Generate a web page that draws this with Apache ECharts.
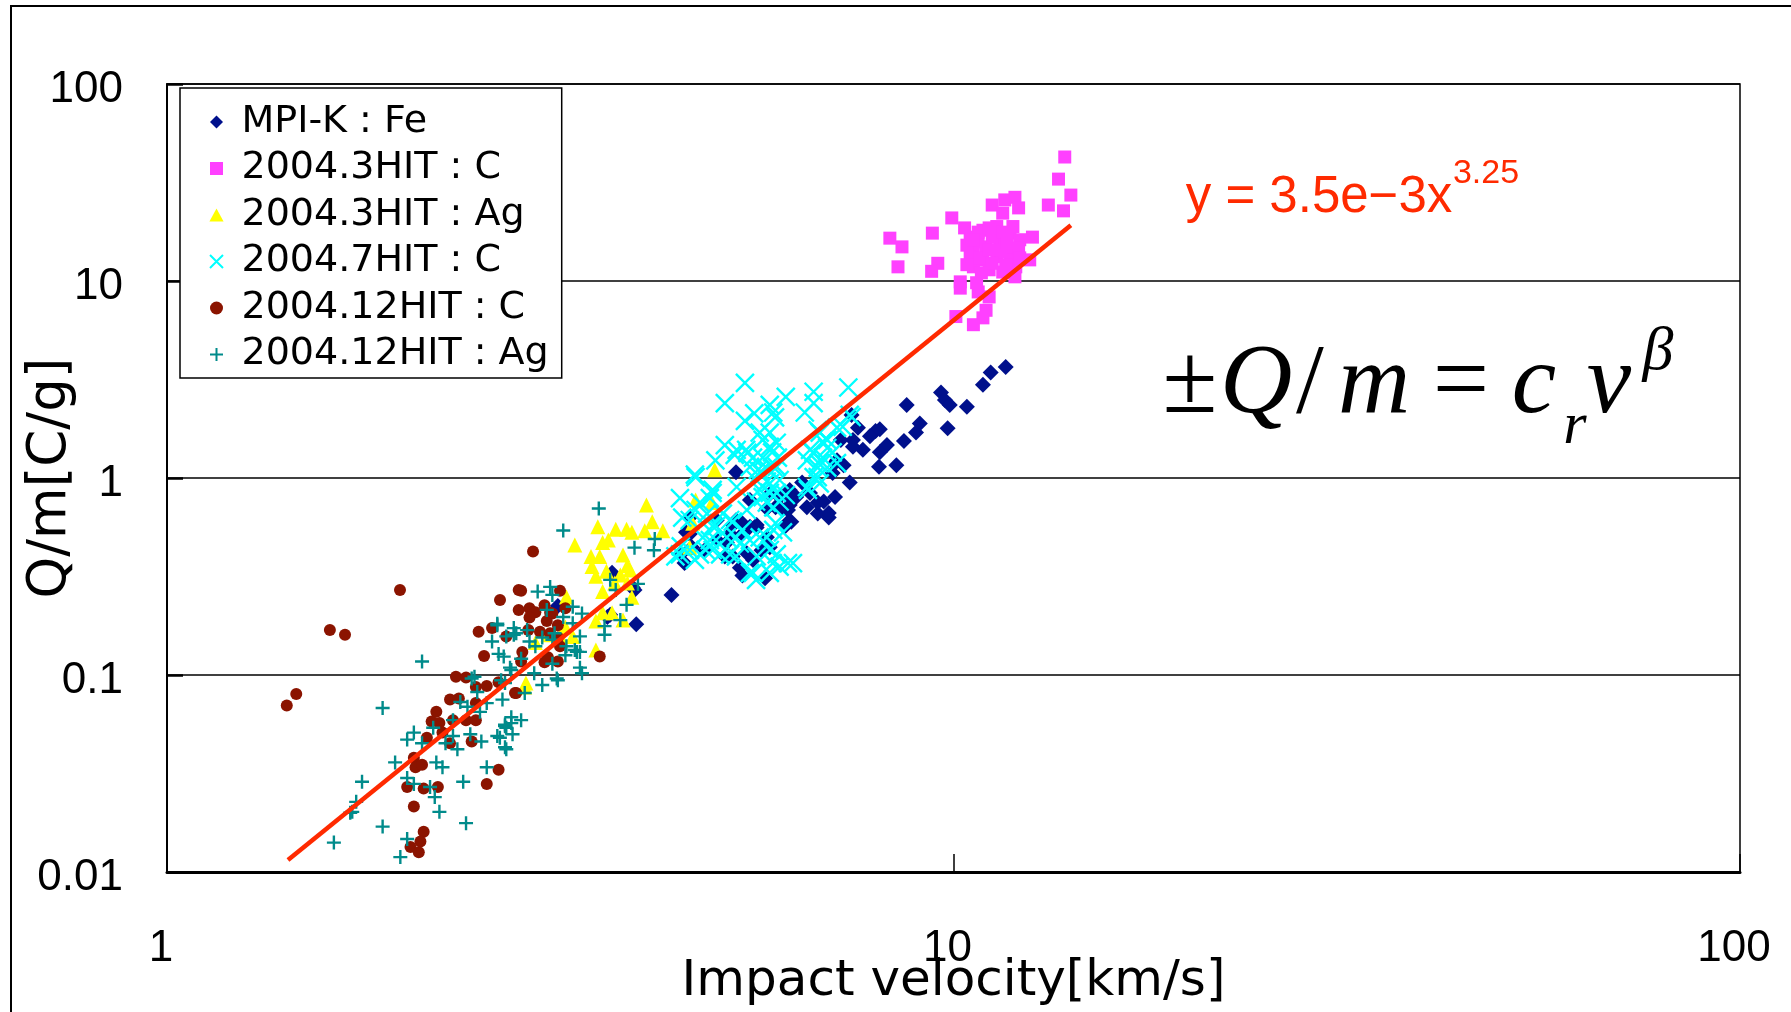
<!DOCTYPE html>
<html>
<head>
<meta charset="utf-8">
<script src="https://cdn.jsdelivr.net/npm/echarts/dist/echarts.min.js"></script>
<style>
html,body{margin:0;padding:0;background:#fff;}
#chart{width:1791px;height:1012px;}
</style>
</head>
<body>
<div id="chart"></div>
<script>
// ---- data (impact velocity km/s, Q/m C/g) ----
const seriesNames = ['MPI-K : Fe', '2004.3HIT : C', '2004.3HIT : Ag', '2004.7HIT : C', '2004.12HIT : C', '2004.12HIT : Ag'];
const xTickLabels = ['1', '10', '100'];
const yTickLabels = ['0.01', '0.1', '1', '10', '100'];

const mpiFe = [[11.65,3.66],[11.15,3.43],[10.9,2.97],[9.64,2.72],[9.75,2.49],[9.89,2.35],[10.4,2.30],[8.72,2.35],[9.83,1.79],[9.06,1.89],[8.96,1.70],[8.65,1.54],[8.23,1.47],[8.06,1.35],[8.46,1.16],[8.04,1.14],[7.96,1.73],[7.83,1.63],[7.67,1.39],[7.56,1.80],[7.42,2.09],[7.45,1.56],[7.45,1.44],[7.25,1.16],[7.38,0.95],[7.02,1.06],[7.07,0.80],[6.84,0.76],[6.94,0.63],[6.72,0.66],[7.11,1.23],[6.51,0.71],[6.42,0.95],[6.31,0.80],[6.19,0.73],[6.06,0.69],[6.14,0.59],[5.94,0.71],[5.79,0.70],[6.01,0.80],[5.79,0.50],[5.84,0.445],[5.70,0.43],[5.76,0.31],[5.56,0.384],[5.46,0.415],[5.39,0.59],[5.29,1.07],[5.51,0.773],[5.20,0.52],[5.24,0.577],[5.12,0.40],[5.00,0.61],[4.84,0.431],[4.65,0.445],[4.62,0.63],[4.55,0.37],[5.24,0.40],[5.35,0.35],[4.38,0.255],[3.95,0.181],[3.91,0.278],[3.66,0.202],[3.68,0.33],[5.29,0.61],[5.51,0.566],[5.62,0.577],[6.19,0.87],[6.57,0.84],[6.72,0.75],[6.94,0.665],[7.19,1.56],[7.07,1.19],[6.24,0.773],[6.16,0.688],[6.22,0.60],[6.10,0.566],[5.84,0.83],[5.62,0.56],[5.39,0.52],[5.15,0.47],[5.39,0.32],[5.00,0.484],[4.83,0.431],[4.62,0.52],[3.14,0.224],[3.93,0.27],[3.63,0.197],[8.06,1.77],[4.57,0.53],[4.50,0.41]];

const hit3C = [[13.85,42.6],[13.6,32.9],[14.1,27.3],[13.2,24.3],[13.8,22.7],[11.97,26.6],[11.62,25.8],[11.2,24.3],[11.55,22.1],[12.1,23.5],[9.95,20.9],[9.40,17.5],[8.30,16.5],[8.6,14.9],[8.5,11.8],[9.55,12.3],[9.38,11.2],[12.6,16.7],[11.9,18.9],[10.5,16.7],[10.9,18.1],[11.35,18.9],[11.8,17.5],[12.14,16.2],[10.6,14.4],[11.0,14.9],[11.45,15.6],[11.9,14.4],[10.5,13.3],[10.9,12.8],[11.35,13.3],[11.8,12.8],[10.6,11.8],[11.1,11.4],[11.55,11.1],[12.0,11.8],[11.2,16.7],[10.75,15.8],[11.5,14.1],[11.97,10.5],[12.5,12.8],[10.2,9.9],[10.2,9.2],[10.7,9.8],[10.75,8.8],[11.1,8.3],[11.0,7.1],[10.9,6.5],[10.6,6.0],[10.07,6.6],[10.33,18.6],[10.4,15.2],[10.4,12.1],[10.75,17.7],[11.1,18.6],[11.55,17.7],[12.1,14.7],[10.8,13.1],[11.2,12.3],[11.65,12.1],[10.85,11.0],[12.14,13.1],[11.1,14.4],[11.7,15.6],[10.6,16.2]];

const hit3Ag = [[4.07,0.729],[4.14,0.60],[3.53,0.565],[3.72,0.55],[3.84,0.55],[3.90,0.53],[4.05,0.54],[4.27,0.54],[3.30,0.457],[3.58,0.47],[3.64,0.484],[3.46,0.40],[3.55,0.40],[3.80,0.407],[3.85,0.36],[3.47,0.355],[3.51,0.317],[3.62,0.336],[3.77,0.322],[3.88,0.341],[3.85,0.293],[3.71,0.293],[3.58,0.265],[3.90,0.248],[3.22,0.249],[3.58,0.207],[3.68,0.207],[3.51,0.188],[3.80,0.190],[3.21,0.175],[3.16,0.157],[3.28,0.157],[3.51,0.134],[3.05,0.160],[2.86,0.091],[2.85,0.087],[4.97,1.10],[4.70,0.773],[4.93,0.75],[4.66,0.59],[4.62,0.445],[2.94,0.146]];

const hit7C = [[5.43,3.04],[5.12,2.40],[6.12,2.58],[5.84,2.35],[5.90,2.15],[5.58,2.13],[5.43,1.95],[6.64,2.74],[6.64,2.40],[6.47,2.15],[7.35,2.88],[7.42,2.04],[7.23,1.82],[6.72,1.75],[6.91,1.56],[6.57,1.39],[6.82,1.27],[7.02,1.35],[7.11,1.19],[6.72,1.13],[6.51,1.23],[6.64,1.01],[6.76,0.94],[6.53,0.87],[5.12,1.47],[5.30,1.39],[5.45,1.39],[5.72,1.56],[5.84,1.70],[5.67,1.70],[5.96,1.51],[5.56,1.27],[5.72,1.27],[5.88,1.35],[5.51,1.14],[5.64,1.10],[5.79,1.12],[5.96,1.14],[4.98,1.23],[4.69,1.04],[5.61,0.977],[5.79,0.96],[6.01,0.977],[5.67,0.87],[5.84,0.84],[5.61,0.76],[5.79,0.75],[6.01,0.76],[5.30,0.90],[4.94,0.87],[4.49,0.79],[4.90,0.79],[4.70,0.688],[4.62,0.612],[4.80,0.59],[4.99,0.57],[5.20,0.612],[5.39,0.545],[5.94,0.59],[6.07,0.53],[4.80,0.50],[4.99,0.484],[5.29,0.50],[5.51,0.484],[5.79,0.50],[4.49,0.41],[4.62,0.431],[4.84,0.431],[5.05,0.41],[5.29,0.40],[5.84,0.431],[4.69,0.384],[5.89,0.37],[6.01,0.355],[6.25,0.37],[5.51,0.33],[5.61,0.304],[5.84,0.33],[5.93,2.03],[7.38,2.09],[7.11,1.80],[6.76,1.70],[6.82,1.53],[6.91,1.42],[6.64,1.35],[5.27,1.31],[5.47,1.34],[5.84,1.44],[5.98,1.27],[4.70,1.01],[5.69,1.08],[5.90,1.14],[5.84,0.94],[5.96,0.84],[5.72,0.80],[5.90,0.71],[6.12,0.82],[6.74,1.19],[6.91,1.13],[6.72,1.01],[6.51,0.90],[4.76,0.75],[4.94,0.84],[4.52,0.63],[4.86,0.66],[4.94,0.57],[5.09,0.66],[5.24,0.60],[5.46,0.688],[4.90,0.484],[5.15,0.50],[5.35,0.465],[5.67,0.50],[5.90,0.545],[4.94,0.431],[5.20,0.41],[5.62,0.40],[5.96,0.41],[6.16,0.37],[5.56,0.33],[4.76,0.41],[4.43,0.40],[4.50,0.45]];

const hit12C = [[1.978,0.270],[1.611,0.169],[1.684,0.160],[1.46,0.080],[1.42,0.070],[2.80,0.270],[2.651,0.240],[2.80,0.214],[2.49,0.166],[2.59,0.173],[2.70,0.157],[2.53,0.125],[2.33,0.098],[2.40,0.097],[2.47,0.087],[2.55,0.088],[2.64,0.092],[2.77,0.081],[2.29,0.075],[2.35,0.076],[2.47,0.072],[2.20,0.065],[2.17,0.058],[2.22,0.057],[2.31,0.059],[2.40,0.059],[2.47,0.059],[2.14,0.048],[2.24,0.051],[2.29,0.045],[2.44,0.046],[2.06,0.038],[2.07,0.034],[2.11,0.035],[2.02,0.027],[2.12,0.0265],[2.21,0.027],[2.64,0.033],[2.55,0.028],[2.06,0.0215],[2.12,0.016],[2.10,0.0143],[2.04,0.0134],[2.09,0.0126],[2.92,0.424],[2.82,0.268],[2.89,0.218],[2.94,0.208],[2.89,0.196],[3.16,0.268],[3.21,0.218],[3.09,0.205],[3.04,0.188],[3.14,0.179],[2.98,0.166],[2.88,0.169],[3.16,0.140],[3.14,0.117],[3.02,0.116],[2.83,0.131],[2.82,0.117],[2.78,0.081],[3.55,0.124],[3.07,0.207],[3.02,0.226],[3.05,0.123],[3.14,0.155],[3.07,0.163]];

const hit12Ag = [[2.11,0.117],[1.88,0.068],[2.63,0.182],[2.76,0.173],[2.70,0.157],[2.59,0.148],[2.64,0.128],[2.68,0.124],[2.73,0.109],[2.46,0.098],[2.48,0.082],[2.69,0.091],[2.67,0.075],[2.36,0.073],[2.41,0.069],[2.50,0.065],[2.55,0.072],[2.31,0.059],[2.18,0.054],[2.06,0.051],[2.02,0.047],[2.11,0.045],[2.26,0.045],[2.34,0.042],[2.43,0.050],[2.51,0.046],[2.63,0.049],[2.69,0.055],[2.74,0.061],[2.69,0.043],[2.75,0.050],[1.95,0.036],[2.20,0.036],[2.24,0.034],[2.02,0.030],[2.06,0.028],[2.16,0.027],[2.19,0.024],[2.22,0.0202],[2.38,0.0287],[2.55,0.034],[1.77,0.0287],[1.74,0.0227],[1.72,0.0202],[1.71,0.0200],[1.63,0.0141],[1.88,0.0170],[2.02,0.0147],[1.98,0.0119],[2.40,0.0177],[2.31,0.049],[3.54,0.70],[3.19,0.541],[3.93,0.443],[2.96,0.265],[3.07,0.280],[3.04,0.214],[3.28,0.222],[3.37,0.205],[3.19,0.197],[3.28,0.183],[3.11,0.163],[3.35,0.157],[2.89,0.148],[2.78,0.163],[2.63,0.179],[2.94,0.140],[3.32,0.131],[3.21,0.126],[3.35,0.109],[3.37,0.102],[3.14,0.094],[3.00,0.089],[2.85,0.081],[2.82,0.059],[2.74,0.057],[2.70,0.054],[2.70,0.042],[3.66,0.304],[3.72,0.270],[3.84,0.227],[3.77,0.190],[3.60,0.177],[3.60,0.160],[4.17,0.49],[4.16,0.43],[3.97,0.29],[3.09,0.255],[2.87,0.169],[2.76,0.160],[3.00,0.155],[3.09,0.151],[3.22,0.140],[3.30,0.134],[2.82,0.121],[3.09,0.114],[2.74,0.106],[2.93,0.102],[3.13,0.096],[2.44,0.096],[2.66,0.094],[3.35,0.131],[2.65,0.048],[2.69,0.056]];

// power-law fit line endpoints
const fitLine = [[1.425,0.0115],[14.1,19.2]];
const fitLabel = 'y = 3.5e\u22123x';
const fitExponent = '3.25';

// ---- chart ----
const crossPath = 'path://M0,0L12,12M12,0L0,12';
const plusPath = 'path://M6,0L6,12M0,6L12,6';
const diamondIcon = 'path://M6,0L12,6L6,12L0,6Z';
const rectIcon = 'path://M0,0L11,0L11,11L0,11Z';
const triIcon = 'path://M6,0L12,11L0,11Z';
const chart = echarts.init(document.getElementById('chart'), null, {renderer: 'canvas'});

const serif = '"Liberation Serif", "Times New Roman", serif';
function t(text, x, y, font, color) {
  return {type: 'text', x: x, y: y, silent: true, z: 50,
    style: {text: text, font: font, fill: color || '#000', align: 'center', verticalAlign: 'middle'}};
}

const option = {
  animation: false,
  backgroundColor: '#fff',
  grid: {left: 167, right: 51, top: 84, bottom: 140, show: true, borderColor: '#000', borderWidth: 1.5, outerBoundsMode: 'none', containLabel: false},
  legend: {
    orient: 'vertical', left: 180, top: 88,
    padding: [14, 13, 3.5, 29],
    itemWidth: 40, itemHeight: 13, itemGap: 6.5,
    backgroundColor: '#fff', borderColor: '#000', borderWidth: 1.5, borderRadius: 0,
    textStyle: {fontFamily: 'DejaVu Sans', fontSize: 38, lineHeight: 40, color: '#000'},
    selectedMode: false,
    data: [
      {name: seriesNames[0], icon: diamondIcon},
      {name: seriesNames[1], icon: rectIcon},
      {name: seriesNames[2], icon: triIcon},
      {name: seriesNames[3], icon: crossPath},
      {name: seriesNames[4], icon: 'circle'},
      {name: seriesNames[5], icon: plusPath}
    ]
  },
  xAxis: {
    type: 'log', logBase: 10, min: 1, max: 100,
    name: 'Impact velocity[km/s]', nameLocation: 'middle', nameGap: 85, nameMoveOverlap: false,
    nameTextStyle: {fontFamily: 'DejaVu Sans', fontSize: 50, color: '#000'},
    axisLine: {show: true, onZero: false, lineStyle: {color: '#000', width: 3}},
    axisTick: {show: true, inside: true, length: 18, lineStyle: {color: '#000', width: 1.5}},
    minorTick: {show: false},
    axisLabel: {margin: 55, fontFamily: 'Liberation Sans', fontSize: 44, color: '#000', padding: [0, 12, 0, 0],
      formatter: function (v) { const i = Math.round(Math.log10(v)); return xTickLabels[i] !== undefined ? xTickLabels[i] : ''; }},
    splitLine: {show: false}
  },
  yAxis: {
    type: 'log', logBase: 10, min: 0.01, max: 100,
    name: 'Q/m[C/g]', nameLocation: 'middle', nameGap: 89, nameRotate: 90, nameMoveOverlap: false,
    nameTextStyle: {fontFamily: 'DejaVu Sans', fontSize: 53, color: '#000'},
    axisLine: {show: true, onZero: false, lineStyle: {color: '#000', width: 2}},
    axisTick: {show: true, inside: true, length: 16, lineStyle: {color: '#000', width: 2.5}},
    minorTick: {show: false},
    axisLabel: {margin: 44, fontFamily: 'Liberation Sans', fontSize: 44, color: '#000', verticalAlign: 'top', lineHeight: 12,
      formatter: function (v) { const i = Math.round(Math.log10(v)) + 2; return yTickLabels[i] !== undefined ? yTickLabels[i] : ''; }},
    splitLine: {show: true, lineStyle: {color: '#000', width: 1.5}}
  },
  series: [
    {name: seriesNames[0], type: 'scatter', data: mpiFe, symbol: 'diamond', symbolSize: 16,
      itemStyle: {color: '#00108C', opacity: 1}},
    {name: seriesNames[1], type: 'scatter', data: hit3C, symbol: 'rect', symbolSize: 13,
      itemStyle: {color: '#FF40FF', opacity: 1}},
    {name: seriesNames[2], type: 'scatter', data: hit3Ag, symbol: 'triangle', symbolSize: 15,
      itemStyle: {color: '#FFFF00', opacity: 1}},
    {name: seriesNames[3], type: 'scatter', data: hit7C, symbol: crossPath, symbolSize: 18,
      itemStyle: {color: 'rgba(0,0,0,0)', borderColor: '#00FFFF', borderWidth: 2.4, opacity: 1}},
    {name: seriesNames[4], type: 'scatter', data: hit12C, symbol: 'circle', symbolSize: 12,
      itemStyle: {color: '#8B1400', opacity: 1}},
    {name: seriesNames[5], type: 'scatter', data: hit12Ag, symbol: plusPath, symbolSize: 14,
      itemStyle: {color: 'rgba(0,0,0,0)', borderColor: '#008B8B', borderWidth: 2.4, opacity: 1}},
    {name: 'fit', type: 'line', data: fitLine, symbol: 'none', z: 10,
      lineStyle: {color: '#FF2A00', width: 4.5}}
  ],
  graphic: [
    {type: 'rect', silent: true, z: -10, shape: {x: 11, y: 6, width: 1800, height: 1030},
      style: {fill: 'none', stroke: '#000', lineWidth: 2}},
    t(fitLabel, 1319, 198, '51px "Liberation Sans"', '#FF2A00'),
    t(fitExponent, 1486, 174, '34px "Liberation Sans"', '#FF2A00'),
    t('\u00B1', 1190, 386, '100px ' + serif),
    t('Q', 1256, 386, 'italic 100px ' + serif),
    t('/', 1310, 386, '100px ' + serif),
    t('m', 1374, 386, 'italic 100px ' + serif),
    t('=', 1461, 386, '100px ' + serif),
    t('c', 1534, 386, 'italic 100px ' + serif),
    t('r', 1575, 427, 'italic 60px ' + serif),
    t('v', 1609, 386, 'italic 100px ' + serif),
    t('\u03B2', 1658, 353, 'italic 62px ' + serif)
  ]
};
chart.setOption(option);
</script>
</body>
</html>
